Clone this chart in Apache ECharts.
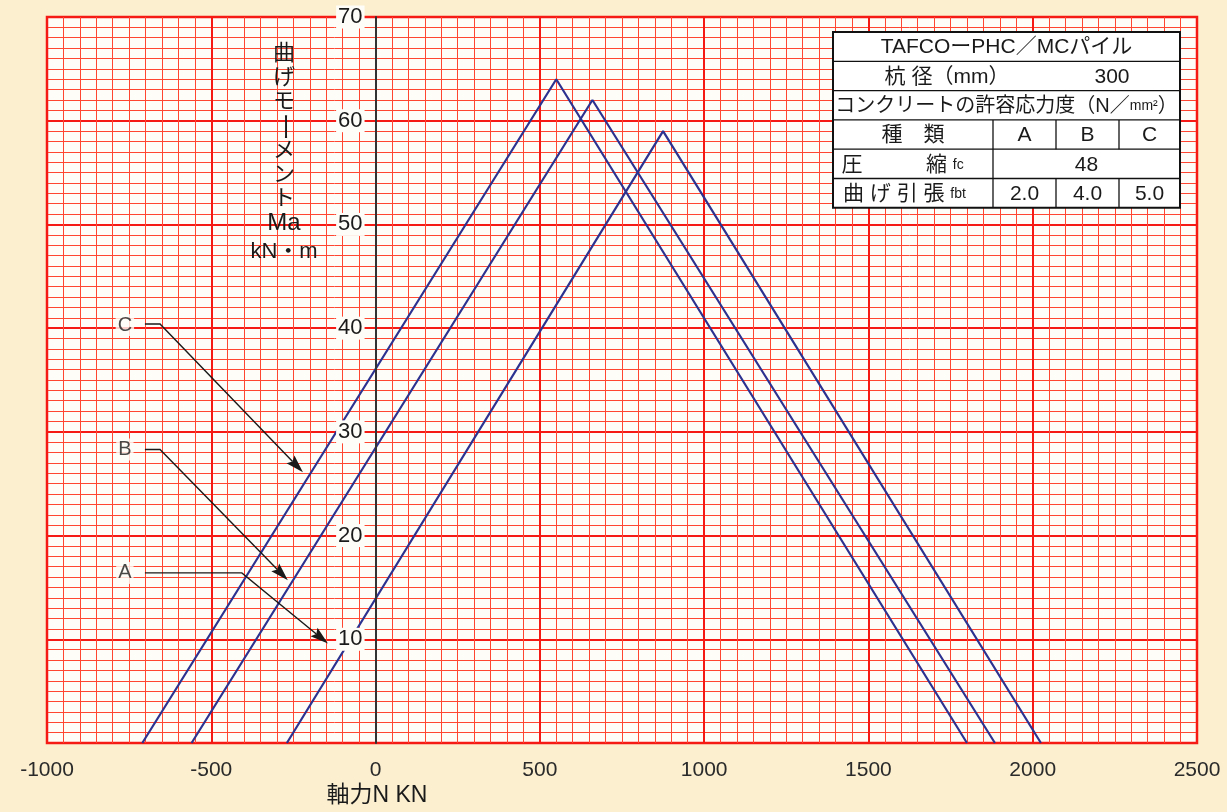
<!DOCTYPE html>
<html><head><meta charset="utf-8">
<script src="https://cdn.jsdelivr.net/npm/echarts@6/dist/echarts.min.js"></script>
<style>html,body{margin:0;padding:0;background:#fbefd0;}#c{width:1227px;height:812px;}</style>
</head><body><div id="c"></div>
<script>
// ---- data ----
const seriesNames = ['A', 'B', 'C'];
const seriesA = [[-270, 0], [875, 59], [2025, 0]];
const seriesB = [[-560, 0], [660, 62], [1885, 0]];
const seriesC = [[-710, 0], [550, 64], [1800, 0]];
const xMin = -1000, xMax = 2500, xInterval = 500;
const yMin = 0, yMax = 70, yInterval = 10;
const xAxisName = '軸力N KN';
const yAxisNameParts = ['曲', 'げ', 'モ', 'ー', 'メ', 'ン', 'ト', 'Ma', 'kN・m'];
// annotation callouts (data coordinates)
const calloutLabels = ['C', 'B', 'A'];
const calloutLabelAt = [[-763, 40.3], [-763, 28.3], [-763, 16.4]];
const calloutPaths = [
  [[-702, 40.4], [-656, 40.4], [-221, 26.1]],
  [[-702, 28.3], [-656, 28.3], [-267, 15.7]],
  [[-702, 16.4], [-407, 16.4], [-145, 9.6]]
];
// table texts
const tableTitle = 'TAFCOーPHC／MCパイル';
const pileLabel = '杭 径（mm）';
const pileDiameter = '300';
const stressHeader = 'コンクリートの許容応力度（N／{s|mm²}）';
const typeHeader = '種　類';
const typeNames = ['A', 'B', 'C'];
const compressionLabel = ['圧', '縮 {s|fc}'];
const compressionValue = '48';
const tensionLabel = '曲 げ 引 張 {s|fbt}';
const tensionValues = ['2.0', '4.0', '5.0'];

// ---- styles / layout ----
const FONT = "'Liberation Sans', Arial, 'Noto Sans CJK JP', sans-serif";
const PLOT_BG = '#fffdf8';
const LINE_BLUE = '#2c3290';
const MINOR = '#ff4630';
const MAJOR = '#f51a14';
const GRID = {left: 47, right: 30, top: 17, bottom: 69};
const W = 1227;
const seriesData = [seriesA, seriesB, seriesC];
const plotW = W - GRID.left - GRID.right;
const zeroOffset = -plotW * (0 - xMin) / (xMax - xMin);

const chart = echarts.init(document.getElementById('c'), null, {renderer: 'canvas'});

const series = seriesData.map((d, i) => ({
  name: seriesNames[i], type: 'line', data: d, symbol: 'none', z: 4,
  lineStyle: {color: LINE_BLUE, width: 2.2}, animation: false, silent: true
}));

series.push({
  type: 'custom', z: 5, silent: true, animation: false, clip: false,
  data: calloutPaths.map(p => p[p.length - 1]),
  renderItem: (params, api) => {
    const path = calloutPaths[params.dataIndex];
    const pts = path.map(c => api.coord(c));
    const tip = pts[pts.length - 1], prev = pts[pts.length - 2];
    const ang = Math.atan2(tip[1] - prev[1], tip[0] - prev[0]);
    const L = 18, HW = 5.5;
    const c = Math.cos(ang), s = Math.sin(ang);
    const bx = tip[0] - L * c, by = tip[1] - L * s;
    const nx = -s * HW, ny = c * HW;
    const notch = [tip[0] - (L - 3) * c, tip[1] - (L - 3) * s];
    return {type: 'group', children: [
      {type: 'polyline', shape: {points: pts.slice(0, -1).concat([notch])},
       style: {stroke: '#1a1a1a', lineWidth: 1.4, fill: null}},
      {type: 'polygon', shape: {points: [tip, [bx + nx, by + ny], notch, [bx - nx, by - ny]]},
       style: {fill: '#1a1a1a', stroke: null}}
    ]};
  }
});

series.push({
  type: 'scatter', symbolSize: 0, z: 6, animation: false, silent: true,
  data: calloutLabelAt.map((c, i) => ({value: c, name: calloutLabels[i]})),
  label: {show: true, position: 'inside', formatter: p => p.name, fontFamily: FONT,
          fontSize: 20, color: '#1a1a1a', backgroundColor: PLOT_BG, padding: [1, 2]}
});

// table graphics
const TL = 833, TT = 32, RH = 29.3;
const colX = [833, 993, 1056, 1119, 1180];
const g = [];
const rowY = i => TT + i * RH;
g.push({type: 'rect', shape: {x: TL, y: TT, width: colX[4] - TL, height: RH * 6},
        style: {fill: '#ffffff', stroke: '#111', lineWidth: 2}, z: 100});
for (let r = 1; r < 6; r++) {
  g.push({type: 'line', shape: {x1: TL, y1: rowY(r), x2: colX[4], y2: rowY(r)},
          style: {stroke: '#111', lineWidth: 1.3}, z: 101});
}
g.push({type: 'line', shape: {x1: colX[1], y1: rowY(3), x2: colX[1], y2: rowY(6)}, style: {stroke: '#111', lineWidth: 1.3}, z: 101});
[colX[2], colX[3]].forEach(x => {
  g.push({type: 'line', shape: {x1: x, y1: rowY(3), x2: x, y2: rowY(4)}, style: {stroke: '#111', lineWidth: 1.3}, z: 101});
  g.push({type: 'line', shape: {x1: x, y1: rowY(5), x2: x, y2: rowY(6)}, style: {stroke: '#111', lineWidth: 1.3}, z: 101});
});
function txt(text, x, y, align, size, rich) {
  return {type: 'text', z: 102, x: x, y: y,
    style: {text: text, font: size + 'px ' + FONT, fill: '#1a1a1a', align: align, verticalAlign: 'middle',
            textAlign: align, textVerticalAlign: 'middle', rich: rich || undefined}};
}
const smallRich = {s: {fontSize: 14, fontFamily: FONT, fill: '#1a1a1a'}};
const mid = r => rowY(r) + RH / 2 + 1;
g.push(txt(tableTitle, (TL + colX[4]) / 2, mid(0), 'center', 21));
g.push(txt(pileLabel, 947, mid(1), 'center', 21));
g.push(txt(pileDiameter, 1112, mid(1), 'center', 21));
g.push(txt(stressHeader, (TL + colX[4]) / 2, mid(2), 'center', 20, smallRich));
g.push(txt(typeHeader, (colX[0] + colX[1]) / 2, mid(3), 'center', 21));
typeNames.forEach((t, i) => g.push(txt(t, (colX[i + 1] + colX[i + 2]) / 2, mid(3), 'center', 21)));
g.push(txt(compressionLabel[0], 852, mid(4), 'center', 21));
g.push(txt(compressionLabel[1], 926, mid(4), 'left', 21, smallRich));
g.push(txt(compressionValue, (colX[1] + colX[4]) / 2, mid(4), 'center', 21));
g.push(txt(tensionLabel, 843, mid(5), 'left', 21, smallRich));
tensionValues.forEach((t, i) => g.push(txt(t, (colX[i + 1] + colX[i + 2]) / 2, mid(5), 'center', 21)));

yAxisNameParts.forEach((t, i) => {
  const y = i < 8 ? 54 + i * 24.2 : 252;
  const size = t === 'Ma' ? 24 : 22;
  const el = {type: 'text', z: 50, x: 284, y: y,
    style: {text: t, font: size + 'px ' + FONT, fill: '#1a1a1a', align: 'center', verticalAlign: 'middle',
            textAlign: 'center', textVerticalAlign: 'middle'}};
  if (t === 'ー') { el.rotation = -Math.PI / 2; el.scaleX = 1.3; }
  g.push(el);
});
g.push({type: 'text', z: 50, x: 377, y: 796,
  style: {text: xAxisName, font: '23px ' + FONT, fill: '#1a1a1a', align: 'center', verticalAlign: 'middle',
          textAlign: 'center', textVerticalAlign: 'middle'}});

const option = {
  backgroundColor: '#fbefd0',
  animation: false,
  grid: Object.assign({show: true, backgroundColor: PLOT_BG, borderColor: MAJOR, borderWidth: 2.5,
                       containLabel: false}, GRID),
  xAxis: {
    type: 'value', min: xMin, max: xMax, interval: xInterval,
    axisLine: {show: false, onZero: false}, axisTick: {show: false},
    axisLabel: {fontSize: 21, color: '#2a2a2a', fontFamily: FONT, margin: 17, formatter: v => String(v)},
    splitLine: {show: true, lineStyle: {color: MAJOR, width: 2}},
    minorTick: {show: false, splitNumber: 10},
    minorSplitLine: {show: true, lineStyle: {color: MINOR, width: 1}}
  },
  yAxis: [{
    type: 'value', min: yMin, max: yMax, interval: yInterval,
    axisLine: {show: false, onZero: false}, axisTick: {show: false}, axisLabel: {show: false},
    splitLine: {show: true, lineStyle: {color: MAJOR, width: 2}},
    minorTick: {show: false, splitNumber: 10},
    minorSplitLine: {show: true, lineStyle: {color: MINOR, width: 1}}
  }, {
    type: 'value', min: yMin, max: yMax, interval: yInterval, position: 'left', z: 8,
    offset: zeroOffset,
    axisLine: {show: true, onZero: false, lineStyle: {color: '#333', width: 2}},
    axisTick: {show: false},
    splitLine: {show: false},
    axisLabel: {fontSize: 22, color: '#1a1a1a', fontFamily: FONT, margin: 11, showMinLabel: false,
                backgroundColor: PLOT_BG, padding: [1, 2, 0, 2],
                formatter: v => (v === 0 ? '' : String(v))}
  }],
  series: series,
  graphic: {elements: g}
};
chart.setOption(option);
</script></body></html>
